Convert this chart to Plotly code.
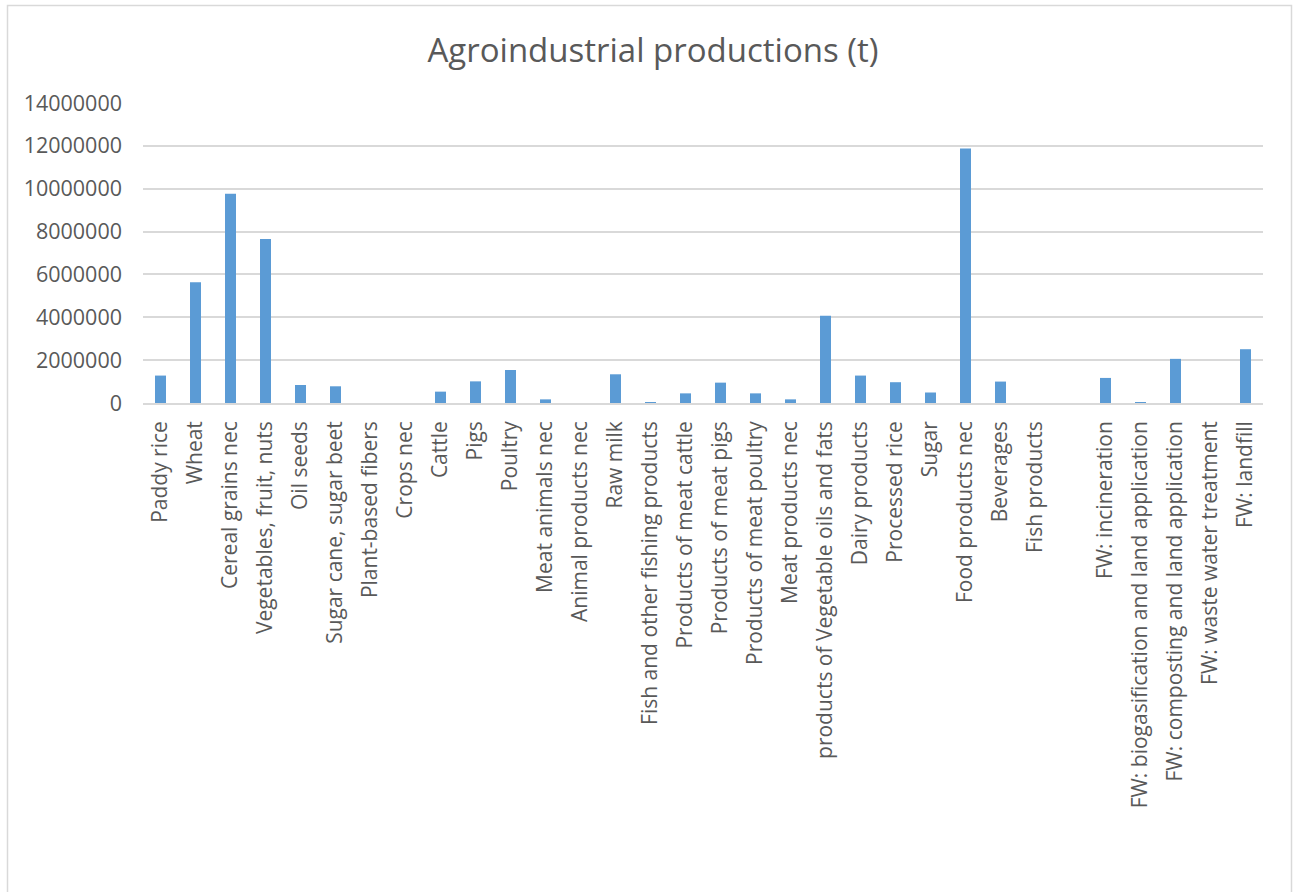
import plotly.graph_objects as go

categories = [
    "Paddy rice", "Wheat", "Cereal grains nec", "Vegetables, fruit, nuts", "Oil seeds",
    "Sugar cane, sugar beet", "Plant-based fibers", "Crops nec", "Cattle", "Pigs",
    "Poultry", "Meat animals nec", "Animal products nec", "Raw milk",
    "Fish and other fishing products", "Products of meat cattle", "Products of meat pigs",
    "Products of meat poultry", "Meat products nec", "products of Vegetable oils and fats",
    "Dairy products", "Processed rice", "Sugar", "Food products nec", "Beverages",
    "Fish products", " ", "FW: incineration", "FW: biogasification and land application",
    "FW: composting and land application", "FW: waste water treatment", "FW: landfill",
]
values = [
    1280000, 5640000, 9770000, 7650000, 840000,
    780000, 0, 0, 530000, 1010000,
    1540000, 170000, 0, 1340000,
    15000, 450000, 950000,
    450000, 170000, 4070000,
    1280000, 970000, 490000, 11880000, 1000000,
    0, 0, 1170000, 10000,
    2060000, 0, 2510000,
]
y_ticks = [0, 2000000, 4000000, 6000000, 8000000, 10000000, 12000000, 14000000]
title_text = "Agroindustrial productions (t)"

W, H = 1293, 892
L, R, T, B = 143, 30, 103, 489
pw, ph = W - L - R, H - T - B

fig = go.Figure(go.Bar(x=categories, y=values, marker=dict(color="#5B9BD5", line=dict(width=0))))

def px_x(x):
    return (x - L) / pw

def px_y(y):
    return (H - B - y) / ph

fig.add_shape(type="rect", xref="paper", yref="paper",
              x0=px_x(7.5), x1=px_x(1291.5), y0=px_y(950), y1=px_y(5.5),
              line=dict(color="#D9D9D9", width=1.5), fillcolor="rgba(0,0,0,0)", layer="below")

fig.update_layout(
    width=W, height=H,
    margin=dict(l=L, r=R, t=T, b=B, pad=0),
    paper_bgcolor="white", plot_bgcolor="white",
    font=dict(family="Open Sans", color="#595959"),
    title=dict(text=title_text, x=653 / W, xanchor="center", y=1 - 50 / H, yanchor="middle",
               font=dict(size=33, color="#595959", family="Open Sans")),
    bargap=0.686,
    showlegend=False,
    xaxis=dict(type="category", tickangle=-90, tickfont=dict(size=21, color="#595959"),
               showgrid=False, showline=True, linecolor="#D9D9D9", linewidth=1.5,
               ticks="", ticklabelstandoff=8, zeroline=False),
    yaxis=dict(range=[0, 14000000], tickvals=y_ticks, ticktext=[str(v) for v in y_ticks],
               tickfont=dict(size=21.5, color="#595959"), showgrid=True, gridcolor="#D9D9D9",
               gridwidth=1.5, zeroline=False, showline=False, ticks="", ticklabelstandoff=20),
)

fig.write_html("out.html")
